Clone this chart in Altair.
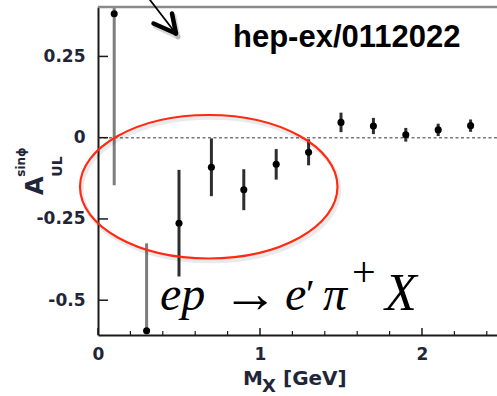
import altair as alt
import pandas as pd

# Single-spin asymmetry A_UL^{sin phi} versus missing mass M_X
mx = [0.1, 0.3, 0.5, 0.7, 0.9, 1.1, 1.3, 1.5, 1.7, 1.9, 2.1, 2.3]
asym = [0.381, -0.594, -0.263, -0.091, -0.160, -0.082, -0.045,
        0.047, 0.036, 0.009, 0.024, 0.037]
err = [0.527, 0.269, 0.164, 0.089, 0.063, 0.047, 0.040,
       0.030, 0.025, 0.021, 0.019, 0.019]

x_major = [0, 1, 2]
x_minor = [0.2, 0.4, 0.6, 0.8, 1.2, 1.4, 1.6, 1.8, 2.2, 2.4]
y_major = [0.25, 0, -0.25, -0.5]

W, H = 399, 328
X_DOMAIN = [0, 2.463]
Y_DOMAIN = [-0.607, 0.402]

df = pd.DataFrame({"mx": mx, "asym": asym, "err": err})
df["lo"] = df["asym"] - df["err"]
df["hi"] = df["asym"] + df["err"]

xs = alt.Scale(domain=X_DOMAIN, nice=False, zero=False)
ys = alt.Scale(domain=Y_DOMAIN, nice=False, zero=False)

LABEL_FONT = "DejaVu Sans"
LABEL_COLOR = "#1f2638"
one = alt.Data(values=[{}])

# the same axis definitions go on every layer so they merge into one axis each
x_axis = alt.Axis(values=x_major, format="d", ticks=False, grid=False, title=None,
                  domainColor="#1a1a1a", domainWidth=2, labelFlush=False,
                  labelFont=LABEL_FONT, labelFontWeight="bold", labelFontSize=17,
                  labelColor=LABEL_COLOR, labelPadding=11)
y_axis = alt.Axis(values=y_major, ticks=False, grid=False, title=None,
                  labelExpr="replace(format(datum.value, '~g'), '\u2212', '-')",
                  domainColor="#1a1a1a", domainWidth=2, labelFlush=False,
                  labelFont=LABEL_FONT, labelFontWeight="bold", labelFontSize=17,
                  labelColor=LABEL_COLOR, labelPadding=13)

# error bars
bars = alt.Chart(df).mark_rule(strokeWidth=3, clip=True).encode(
    x=alt.X("mx:Q", scale=xs, axis=x_axis),
    y=alt.Y("lo:Q", scale=ys, axis=y_axis),
    y2="hi:Q",
    color=alt.condition(alt.datum.err > 0.2, alt.value("#7d7d7d"), alt.value("#2e2e2e")),
)

points = alt.Chart(df).mark_point(filled=True, size=50, color="black", opacity=1, clip=True).encode(
    x=alt.X("mx:Q", scale=xs, axis=x_axis),
    y=alt.Y("asym:Q", scale=ys, axis=y_axis),
)

# dotted zero line
zero_line = alt.Chart(one).mark_rule(color="#7a7a7a", strokeWidth=1.6, strokeDash=[3, 2.5]).encode(
    y=alt.datum(0, scale=ys, axis=y_axis),
    x=alt.value(0), x2=alt.value(W),
)

# inward ticks
y_ticks = alt.Chart(pd.DataFrame({"t": y_major})).mark_rule(color="#1a1a1a", strokeWidth=1.5).encode(
    y=alt.Y("t:Q", scale=ys, axis=y_axis), x=alt.value(0), x2=alt.value(10),
)
x_ticks_major = alt.Chart(pd.DataFrame({"t": x_major})).mark_rule(color="#1a1a1a", strokeWidth=1.5).encode(
    x=alt.X("t:Q", scale=xs, axis=x_axis), y=alt.value(H), y2=alt.value(H - 7),
)
x_ticks_minor = alt.Chart(pd.DataFrame({"t": x_minor})).mark_rule(color="#1a1a1a", strokeWidth=1.2).encode(
    x=alt.X("t:Q", scale=xs, axis=x_axis), y=alt.value(H), y2=alt.value(H - 4),
)

# top frame line
top_line = alt.Chart(one).mark_rule(color="#8a8a8a", strokeWidth=2.5).encode(
    y=alt.value(0), x=alt.value(0), x2=alt.value(W),
)

# circle marking the low-mass region
k, a = 0.5523, 0.5573
ka = round(k * a, 4)
ellipse_path = (f"M -1 0 C -1 {-ka} {-k} {-a} 0 {-a} C {k} {-a} 1 {-ka} 1 0 "
                f"C 1 {ka} {k} {a} 0 {a} C {-k} {a} -1 {ka} -1 0 Z")
ell_size = (2 * 128.75) ** 2
ellipse_shadow = alt.Chart(one).mark_point(shape=ellipse_path, size=ell_size, filled=False,
                                           stroke="#000000", strokeWidth=4, opacity=0.08).encode(
    x=alt.value(112.5), y=alt.value(182.5))
ellipse = alt.Chart(one).mark_point(shape=ellipse_path, size=ell_size, filled=False,
                                    stroke="#ff2a12", strokeWidth=2.2, opacity=1).encode(
    x=alt.value(110.75), y=alt.value(179.75))

# arrow pointing into the plot
def seg(x1, y1, x2, y2, width, color="black", opacity=1.0):
    return alt.Chart(one).mark_rule(color=color, strokeWidth=width, strokeCap="round",
                                    opacity=opacity).encode(
        x=alt.value(x1), y=alt.value(y1), x2=alt.value(x2), y2=alt.value(y2))

arrow_shadow = [seg(57.5, 19.5, 80, 30, 5, "#000", 0.15), seg(76, 9, 80, 30, 5, "#000", 0.15)]
arrow = [seg(52, -7, 77.5, 26, 1.8), seg(55.5, 16.5, 78, 26.5, 4.5), seg(74, 6.5, 78, 26.5, 4.5)]

def txt(s, x, y, size, font, weight="normal", style="normal", angle=0, color="black", align="left"):
    return alt.Chart(one).mark_text(text=s, font=font, fontSize=size, fontWeight=weight,
                                    fontStyle=style, angle=angle, align=align,
                                    baseline="alphabetic", color=color).encode(
        x=alt.value(x), y=alt.value(y))

texts = [
    txt("hep-ex/0112022", 135, 40, 31, "Liberation Sans", weight="bold"),
    # x-axis title  M_X [GeV]
    txt("M", 145, 378, 20, LABEL_FONT, weight="bold", color=LABEL_COLOR),
    txt("X", 164, 385, 18, LABEL_FONT, weight="bold", color=LABEL_COLOR),
    txt("[GeV]", 185, 378, 20, LABEL_FONT, weight="bold", color=LABEL_COLOR),
    # y-axis title  A_UL^{sin phi}
    txt("A", -55, 188, 24, LABEL_FONT, weight="bold", angle=270, color=LABEL_COLOR),
    txt("sin\u03d5", -73, 169.7, 12, LABEL_FONT, weight="bold", angle=270, color=LABEL_COLOR),
    txt("UL", -36, 169.7, 14, LABEL_FONT, weight="bold", angle=270, color=LABEL_COLOR),
    # reaction  ep -> e' pi+ X
    txt("ep", 62, 303, 48, "Liberation Serif", style="italic"),
    txt("\u2192", 124, 305, 56, "Liberation Serif"),
    txt("e", 187, 303, 48, "Liberation Serif", style="italic"),
    txt("\u2032", 208, 300, 40, "Liberation Serif"),
    txt("\u03c0", 225, 303, 48, "Liberation Serif", style="italic"),
    txt("+", 254, 279, 42, "Liberation Serif"),
    txt("X", 287, 303, 52, "Liberation Serif", style="italic"),
]

chart = alt.layer(
    bars, zero_line, top_line, y_ticks, x_ticks_major, x_ticks_minor, points,
    ellipse_shadow, ellipse, *arrow_shadow, *arrow, *texts,
).properties(
    width=W, height=H,
    padding={"left": 98, "top": 7, "right": 0, "bottom": 61},
    autosize=alt.AutoSizeParams(type="none"),
    background="white",
).configure_view(stroke=None)

chart.save("out.html", embed_options={"renderer": "svg", "actions": False})
